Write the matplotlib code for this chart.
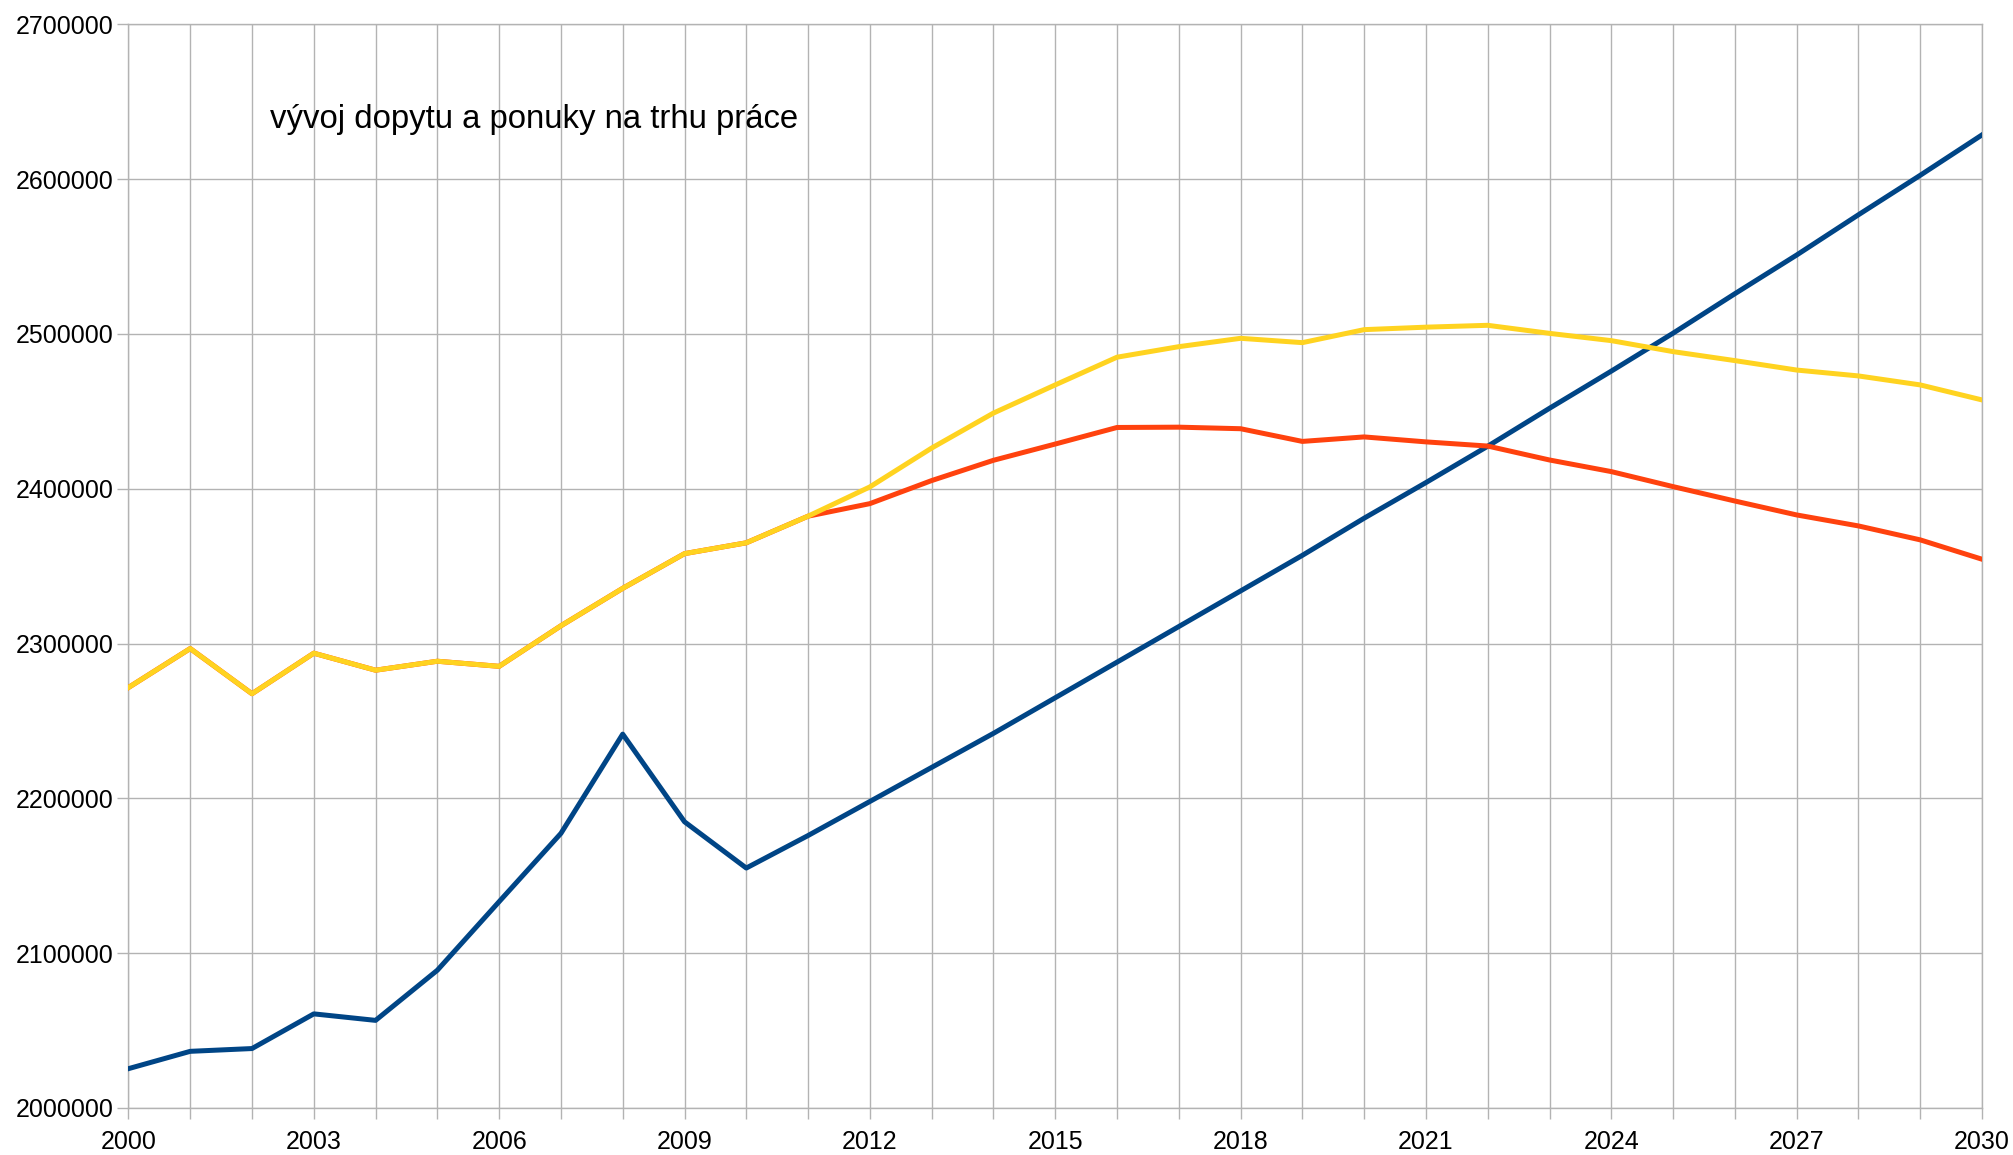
import matplotlib
matplotlib.use("Agg")
import matplotlib.pyplot as plt
from matplotlib.ticker import MultipleLocator, FuncFormatter

plt.rcParams['font.family'] = ['Liberation Sans', 'DejaVu Sans']

# ---- data ----
years = list(range(2000, 2031))
year_labels = years[::3]

# blue series (dopyt)
demand = [2025400, 2036600, 2038400, 2060800, 2056600, 2089000, 2133300, 2177400,
          2241500, 2184900, 2155000, 2176000, 2198000, 2220000, 2242000, 2265000,
          2288000, 2311000, 2334000, 2357000, 2381000, 2404000, 2427500, 2452000,
          2476000, 2500500, 2526000, 2551000, 2577000, 2602500, 2628600]

# red series
supply_low = [2271600, 2296800, 2267600, 2293800, 2282800, 2288600, 2285300, 2311500,
              2335700, 2358100, 2365100, 2382300, 2390400, 2405300, 2418400, 2428900,
              2439600, 2439800, 2438800, 2430600, 2433500, 2430300, 2427600, 2418600,
              2411100, 2401400, 2392100, 2383100, 2376000, 2367000, 2354500]

# yellow series
supply_high = [2271600, 2296800, 2267600, 2293800, 2282800, 2288600, 2285300, 2311500,
               2335700, 2358100, 2365100, 2382300, 2401200, 2426300, 2448900, 2467100,
               2485000, 2491800, 2497200, 2494400, 2502800, 2504400, 2505600, 2500400,
               2495700, 2488600, 2482800, 2476700, 2472900, 2467100, 2457400]

title = "vývoj dopytu a ponuky na trhu práce"

# ---- figure ----
fig = plt.figure(figsize=(20.13, 11.55), dpi=100)
ax = fig.add_axes([0.0638, 0.0407, 0.9208, 0.9382])

ax.plot(years, demand, color="#004586", linewidth=3.6, zorder=3)
ax.plot(years, supply_low, color="#ff420e", linewidth=3.6, zorder=4)
ax.plot(years, supply_high, color="#ffd320", linewidth=3.6, zorder=5)

ax.set_xlim(2000, 2030)
ax.set_ylim(2000000, 2700000)

ax.set_xticks(year_labels)
ax.set_xticks(years, minor=True)
ax.yaxis.set_major_locator(MultipleLocator(100000))
ax.yaxis.set_major_formatter(FuncFormatter(lambda v, p: "%d" % v))

grid_c = "#b3b3b3"
ax.grid(True, which="both", axis="x", color=grid_c, linewidth=1.0)
ax.grid(True, which="major", axis="y", color=grid_c, linewidth=1.0)
for s in ax.spines.values():
    s.set_color(grid_c)
    s.set_linewidth(1.0)

ax.tick_params(axis="both", which="both", direction="out", length=8,
               color=grid_c, width=1.0, labelsize=18, labelcolor="black")
ax.tick_params(axis="y", pad=3)
ax.tick_params(axis="x", pad=8)

ax.text(0.0762, 0.912, title, transform=ax.transAxes, fontsize=23.7,
        ha="left", va="center", color="black")

fig.savefig("out.png", dpi=100)
